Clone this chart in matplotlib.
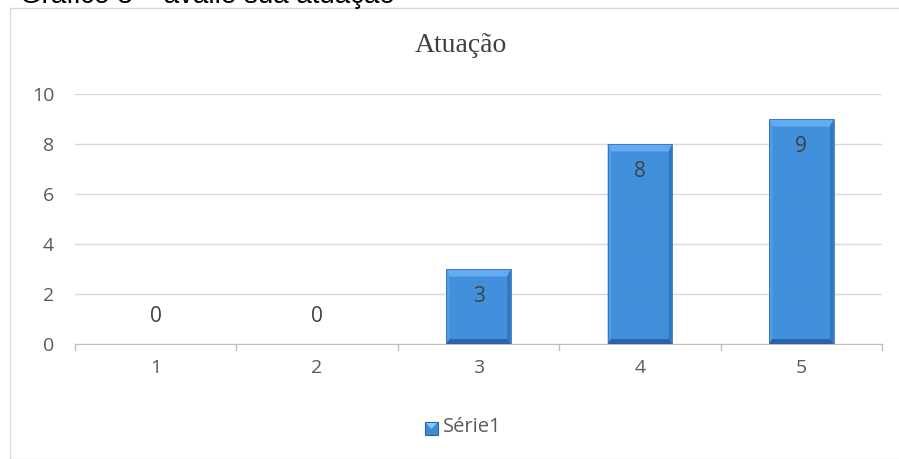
import matplotlib
matplotlib.use('Agg')
import matplotlib.pyplot as plt
import numpy as np
from matplotlib.patches import Rectangle, Polygon

categorias = ["1", "2", "3", "4", "5"]
valores = [0, 0, 3, 8, 9]
titulo = "Atuação"
serie = "Série1"
cabecalho = "Gráfico 3 – avalie sua atuação"

W, H = 899, 459
fig = plt.figure(figsize=(W / 100, H / 100), dpi=100)

# moldura do gráfico (estilo Excel)
fig.patches.append(Rectangle((10 / W, 0), 1, 1 - 8 / H, transform=fig.transFigure,
                             fill=False, edgecolor="#d9d9d9", linewidth=1.0))
# legenda do documento, cortada no topo como na imagem original
fig.text(20 / W, 1 - 3 / H, cabecalho, fontsize=20, family="Liberation Sans",
         va="baseline", ha="left", color="black")

ax = fig.add_axes([75 / W, 1 - 344 / H, 807 / W, 250 / H])
x = np.arange(len(categorias))
bw = 0.4

# barras com efeito de chanfro
bx, by_top, by_bot = 0.022, 0.3, 0.2
for xi, v in zip(x, valores):
    if v <= 0:
        continue
    l, r = xi - bw / 2, xi + bw / 2
    ax.add_patch(Rectangle((l, 0), bw, v, facecolor="#3c8cda", edgecolor="none", zorder=3, alpha=0.97))
    ax.add_patch(Polygon([(l, v), (r, v), (r - bx, v - by_top), (l + bx, v - by_top)],
                         facecolor="#62adf1", edgecolor="none", zorder=3.5))
    ax.add_patch(Polygon([(l, 0), (l + bx, by_bot), (l + bx, v - by_top), (l, v)],
                         facecolor="#4f9ce7", edgecolor="none", zorder=3.5))
    ax.add_patch(Polygon([(r, 0), (r, v), (r - bx, v - by_top), (r - bx, by_bot)],
                         facecolor="#3078c2", edgecolor="none", zorder=3.5))
    ax.add_patch(Polygon([(l, 0), (r, 0), (r - bx, by_bot), (l + bx, by_bot)],
                         facecolor="#2a64a6", edgecolor="none", zorder=3.5))
    ax.add_patch(Rectangle((l, 0), bw, v, facecolor="none", edgecolor="#3571b3",
                           linewidth=0.6, zorder=4))

for xi, v in zip(x, valores):
    y = v - 1.1 if v > 0 else 1.1
    ax.text(xi, y, str(v), ha="center", va="center", fontsize=15,
            color="#404040", family="Open Sans", zorder=5)

ax.set_xlim(-0.5, len(categorias) - 0.5)
ax.set_ylim(0, 10)
ax.set_yticks(range(0, 11, 2))
ax.set_xticks(x)
ax.set_xticklabels(categorias)
ax.grid(axis="y", color="#d9d9d9", linewidth=1.0, zorder=0)
ax.set_axisbelow(True)
for s in ["top", "right", "left"]:
    ax.spines[s].set_visible(False)
ax.spines["bottom"].set_color("#bfbfbf")
ax.tick_params(axis="y", length=0, pad=15, labelsize=14, labelcolor="#595959")
ax.tick_params(axis="x", length=0, pad=11, labelsize=14, labelcolor="#595959")
for lab in ax.get_xticklabels() + ax.get_yticklabels():
    lab.set_family("Open Sans")
# marcas entre categorias
for b in np.arange(-0.5, len(categorias), 1.0):
    ax.plot([b, b], [0, -0.25], color="#bfbfbf", linewidth=1.0, clip_on=False)

fig.text(461 / W, 1 - 46 / H, titulo, ha="center", va="center", fontsize=20,
         family="Liberation Serif", color="#404040")

# legenda
fig.patches.append(Rectangle((425 / W, 1 - 435 / H), 13 / W, 13 / H, transform=fig.transFigure,
                             facecolor="#3c8cda", edgecolor="#2a64a6", linewidth=0.8))
fig.patches.append(Polygon([(426 / W, 1 - 423 / H), (437 / W, 1 - 423 / H), (431.5 / W, 1 - 429 / H)],
                           closed=True, transform=fig.transFigure, facecolor="#8cc8f5", edgecolor="none"))
fig.text(443 / W, 1 - 427 / H, serie, ha="left", va="center", fontsize=14.5,
         family="Open Sans", color="#595959")

fig.savefig("out.png", dpi=100)
